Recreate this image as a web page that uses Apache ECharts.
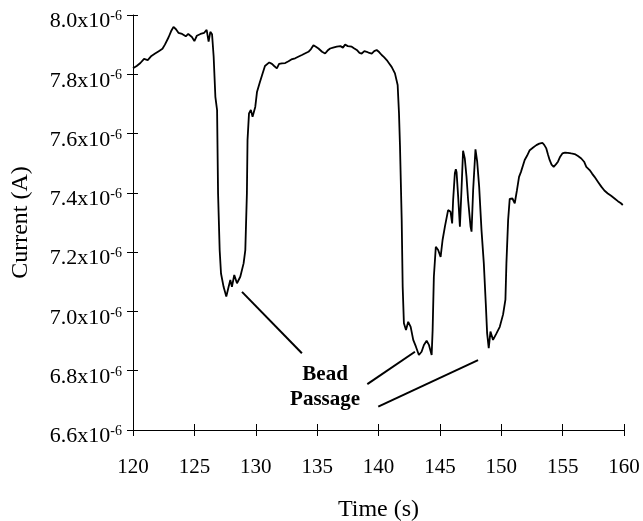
<!DOCTYPE html>
<html>
<head>
<meta charset="utf-8">
<script src="https://cdn.jsdelivr.net/npm/echarts@6/dist/echarts.min.js"></script>
<style>html,body{margin:0;padding:0;background:#fff}#c{width:643px;height:521px}</style>
</head>
<body>
<div id="c"></div>
<script>
// Time (s)
const timeS = [
120.0,120.3,120.6,120.9,121.2,121.5,121.8,122.1,122.4,122.6,122.9,123.1,123.3,123.5,123.7,124.0,124.3,124.5,124.8,125.0,
125.2,125.5,125.8,126.0,126.16,126.3,126.44,126.57,126.71,126.85,126.93,127.06,127.17,127.38,127.60,127.79,127.93,128.06,128.25,128.47,
128.74,129.01,129.15,129.28,129.33,129.45,129.6,129.74,129.96,130.10,130.31,130.50,130.75,130.91,131.1,131.32,131.5,131.72,131.9,132.13,
132.4,132.67,132.9,133.21,133.5,133.76,134.0,134.29,134.5,134.70,134.9,135.11,135.4,135.65,135.85,136.06,136.3,136.60,136.9,137.1,
137.28,137.5,137.82,138.0,138.23,138.45,138.63,138.85,139.04,139.25,139.45,139.65,139.85,140.05,140.26,140.45,140.67,140.9,141.07,141.34,
141.56,141.67,141.75,141.89,141.97,142.07,142.24,142.42,142.62,142.83,143.05,143.29,143.51,143.70,143.92,144.11,144.33,144.41,144.51,144.67,
144.86,145.06,145.22,145.41,145.67,145.87,146.00,146.08,146.22,146.30,146.36,146.49,146.63,146.76,146.89,147.03,147.17,147.30,147.50,147.58,
147.71,147.90,148.04,148.20,148.39,148.58,148.74,148.85,148.98,149.12,149.33,149.61,149.88,150.15,150.34,150.42,150.56,150.69,150.91,151.10,
151.28,151.45,151.6,151.91,152.1,152.32,152.6,152.86,153.1,153.35,153.5,153.67,153.8,153.94,154.1,154.27,154.45,154.62,154.8,154.98,
155.2,155.43,155.7,155.98,156.25,156.52,156.75,156.93,157.20,157.40,157.60,157.9,158.15,158.4,158.68,158.95,159.23,159.5,159.75,159.90
];
// Current (x10^-6 A)
const currentMicroA = [
7.820,7.828,7.838,7.852,7.848,7.862,7.870,7.878,7.886,7.900,7.925,7.945,7.960,7.952,7.940,7.936,7.928,7.936,7.926,7.912,
7.930,7.936,7.940,7.950,7.910,7.943,7.935,7.860,7.724,7.679,7.398,7.207,7.128,7.083,7.050,7.083,7.106,7.083,7.123,7.095,
7.117,7.162,7.207,7.400,7.578,7.668,7.680,7.657,7.690,7.740,7.770,7.795,7.828,7.831,7.840,7.835,7.828,7.820,7.835,7.837,
7.838,7.844,7.850,7.854,7.860,7.865,7.870,7.876,7.885,7.898,7.893,7.887,7.876,7.870,7.880,7.887,7.890,7.893,7.895,7.890,
7.900,7.895,7.893,7.888,7.882,7.872,7.870,7.878,7.876,7.872,7.870,7.878,7.882,7.875,7.865,7.858,7.848,7.835,7.825,7.803,
7.764,7.668,7.560,7.308,7.083,6.960,6.937,6.965,6.948,6.904,6.881,6.853,6.864,6.887,6.901,6.887,6.853,6.937,7.117,7.218,
7.207,7.184,7.241,7.286,7.342,7.336,7.297,7.376,7.466,7.480,7.470,7.387,7.286,7.409,7.542,7.516,7.454,7.376,7.286,7.269,
7.409,7.547,7.505,7.421,7.275,7.162,7.027,6.926,6.876,6.932,6.904,6.926,6.948,6.990,7.040,7.162,7.308,7.380,7.381,7.365,
7.409,7.454,7.470,7.511,7.525,7.544,7.553,7.561,7.566,7.569,7.562,7.550,7.530,7.511,7.495,7.488,7.496,7.505,7.522,7.533,
7.536,7.535,7.533,7.531,7.524,7.516,7.505,7.488,7.477,7.465,7.454,7.436,7.421,7.408,7.398,7.390,7.381,7.372,7.365,7.359
];
const xTicks = {min: 120, max: 160, step: 5};
const yTicks = {min: 6.6, max: 8.0, step: 0.2};
const annotLines = [
  [[128.88, 7.066], [133.76, 6.859]],
  [[139.09, 6.755], [142.97, 6.864]],
  [[139.98, 6.679], [148.11, 6.836]]
];
const annotText = {label: 'Bead\nPassage', at: [135.65, 6.745]};

const FONT = "'Liberation Serif','Times New Roman',serif";
const chart = echarts.init(document.getElementById('c'), null, {renderer: 'canvas'});
const data = timeS.map((t, i) => [t, currentMicroA[i]]);

const baseX = {
  type: 'value', min: xTicks.min, max: xTicks.max, interval: xTicks.step, position: 'bottom',
  splitLine: {show: false}
};
const baseY = {
  type: 'value', min: yTicks.min, max: yTicks.max, interval: yTicks.step, position: 'left',
  splitLine: {show: false}
};

chart.setOption({
  backgroundColor: '#fff',
  animation: false,
  grid: {left: 133, right: 19, top: 15, bottom: 91, containLabel: false, outerBoundsMode: 'none'},
  xAxis: [
    Object.assign({}, baseX, {
      name: 'Time (s)', nameLocation: 'middle', nameGap: 68,
      nameTextStyle: {fontFamily: FONT, fontSize: 24, color: '#000'},
      axisLine: {onZero: false, lineStyle: {color: '#000', width: 1}},
      axisTick: {inside: false, length: 6, lineStyle: {color: '#000', width: 1}},
      axisLabel: {margin: 27, fontFamily: FONT, fontSize: 21, color: '#000'}
    }),
    Object.assign({}, baseX, {
      axisLine: {show: false, onZero: false},
      axisTick: {inside: true, length: 6, lineStyle: {color: '#000', width: 1}},
      axisLabel: {show: false}
    })
  ],
  yAxis: [
    Object.assign({}, baseY, {
      name: 'Current (A)', nameLocation: 'middle', nameGap: 100,
      nameTextStyle: {fontFamily: FONT, fontSize: 24, color: '#000'},
      axisLine: {onZero: false, lineStyle: {color: '#000', width: 1}},
      axisTick: {inside: false, length: 6, lineStyle: {color: '#000', width: 1}},
      axisLabel: {
        margin: 11, padding: [13, 0, 0, 0],
        formatter: v => '{m|' + v.toFixed(1) + 'x10}{s|-6}',
        rich: {
          m: {fontFamily: FONT, fontSize: 22, lineHeight: 24, color: '#000'},
          s: {fontFamily: FONT, fontSize: 14, lineHeight: 14, verticalAlign: 'top', color: '#000'}
        }
      }
    }),
    Object.assign({}, baseY, {
      axisLine: {show: false, onZero: false},
      axisTick: {inside: true, length: 5, lineStyle: {color: '#000', width: 1}},
      axisLabel: {show: false}
    })
  ],
  series: [{
    type: 'line',
    data: data,
    xAxisIndex: 0, yAxisIndex: 0,
    showSymbol: false,
    symbol: 'none',
    lineStyle: {color: '#000', width: 1.8},
    markLine: {
      silent: true, symbol: ['none', 'none'],
      lineStyle: {color: '#000', width: 2, type: 'solid'},
      label: {show: false},
      data: annotLines.map(l => [{coord: l[0]}, {coord: l[1]}])
    },
    markPoint: {
      silent: true,
      symbol: 'circle', symbolSize: 0,
      itemStyle: {color: 'rgba(0,0,0,0)'},
      label: {
        show: true, position: 'inside', formatter: annotText.label,
        fontFamily: FONT, fontWeight: 'bold', fontSize: 21, lineHeight: 25, color: '#000'
      },
      data: [{coord: annotText.at}]
    }
  }]
});
</script>
</body>
</html>
